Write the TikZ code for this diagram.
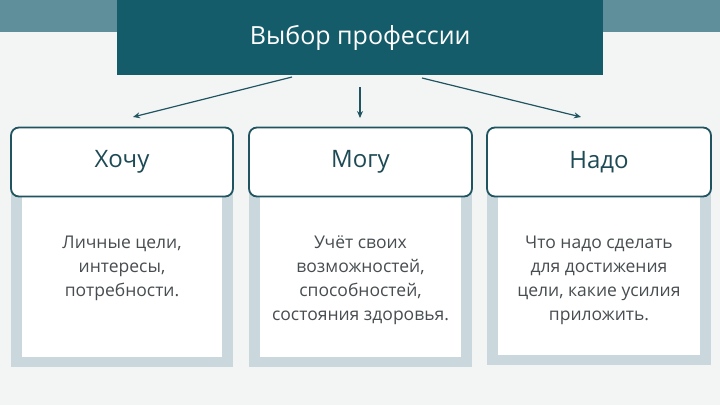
\documentclass[tikz,border=0pt]{standalone}
\usepackage{fontspec}
\setmainfont{Open Sans}
\usetikzlibrary{arrows.meta}
\definecolor{bgc}{HTML}{F3F5F5}
\definecolor{band}{HTML}{5F8F9A}
\definecolor{dteal}{HTML}{155C6A}
\definecolor{edgec}{HTML}{1F5460}
\definecolor{shadowc}{HTML}{CAD8DD}
\definecolor{txtc}{HTML}{474D50}
\definecolor{headc}{HTML}{1D4A55}
\tikzset{
  x=1pt, y=-1pt,
  headbox/.style={draw=edgec, line width=1.8pt, fill=white, rounded corners=8pt,
    minimum width=222pt, minimum height=69pt, inner sep=0pt,
    font=\fontsize{24}{28}\selectfont, text=headc},
  backbox/.style={fill=shadowc},
  bodytext/.style={align=center, font=\fontsize{17.5}{24}\selectfont, text=txtc, anchor=north},
  conn/.style={draw=edgec, line width=1.2pt, -{Stealth[length=7pt,width=6pt]}}
}
\begin{document}
\begin{tikzpicture}
\useasboundingbox (0,0) rectangle (720,405);
\fill[bgc] (0,0) rectangle (720,405);
\fill[band] (0,0) rectangle (720,32);
\node[fill=dteal, minimum width=486pt, minimum height=75pt, inner sep=0pt, anchor=north west,
  font=\fontsize{25}{28}\selectfont, text=white] (title) at (117,0) {Выбор профессии};
% columns
\fill[backbox] (11,160) rectangle (233,367);
\fill[white] (22,190) rectangle (222,357);
\fill[backbox] (249,160) rectangle (472,367);
\fill[white] (260,190) rectangle (461,357);
\fill[backbox] (487,160) rectangle (711,365);
\fill[white] (498,190) rectangle (700,355);
\node[headbox, minimum width=222pt] (h1) at (122,162) {Хочу};
\node[headbox, minimum width=223pt] (h2) at (360.5,162) {Могу};
\node[headbox, minimum width=224pt] (h3) at (599,162) {Надо};
\node[bodytext] (b1) at (122,232) {Личные цели,\\интересы,\\потребности.};
\node[bodytext] (b2) at (360.5,232) {Учёт своих\\возможностей,\\способностей,\\состояния здоровья.};
\node[bodytext] (b3) at (599,232) {Что надо сделать\\для достижения\\цели, какие усилия\\приложить.};
% arrows
\coordinate (a1) at (292,77);
\coordinate (t1) at (133,117);
\coordinate (a2) at (360,87);
\coordinate (t2) at (360,118);
\coordinate (a3) at (422,78);
\coordinate (t3) at (581,117);
\draw[conn] (a1) -- (t1);
\draw[conn] (a2) -- (t2);
\draw[conn] (a3) -- (t3);
\end{tikzpicture}
\end{document}
